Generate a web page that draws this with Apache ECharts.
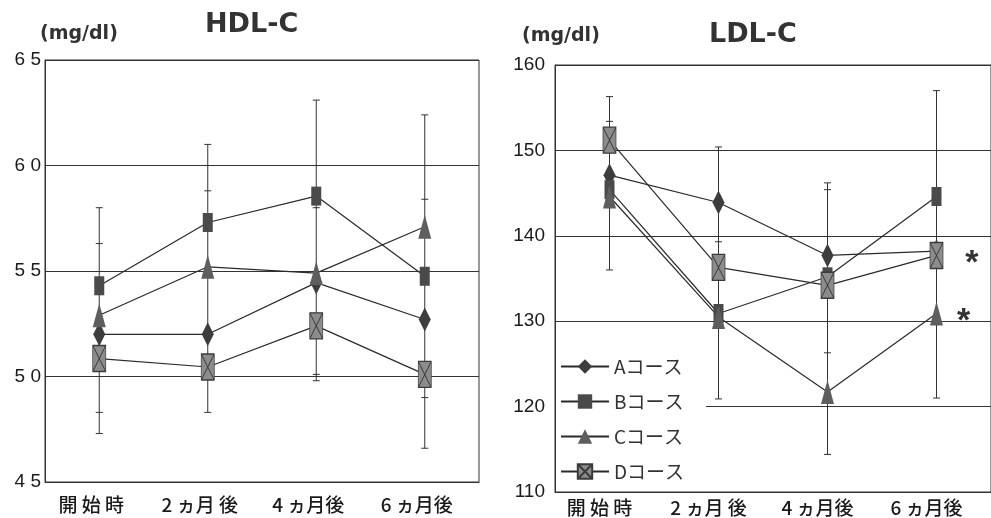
<!DOCTYPE html>
<html>
<head>
<meta charset="utf-8">
<script src="https://cdn.jsdelivr.net/npm/echarts@6/dist/echarts.min.js"></script>
<style>
  html, body { margin: 0; background: #fff; }
  #chart { width: 991px; height: 518px; }
</style>
</head>
<body>
<div id="chart"></div>
<script>
// categories / series names
const categories = ['開 始 時', '2 ヵ月 後', '4 ヵ月後', '6 ヵ月後']
const courseNames = ['Aコース', 'Bコース', 'Cコース', 'Dコース']

// HDL-C means
const hdlA = [52.0, 52.0, 54.45, 52.7]
const hdlB = [54.3, 57.3, 58.55, 54.75]
const hdlC = [52.9, 55.2, 54.9, 57.1]
const hdlD = [50.85, 50.45, 52.4, 50.1]
// HDL-C error bar ends [low, high]
const hdlErrA = [[48.3, 56.3], [null, 58.8], [null, 58.0], [null, 58.4]]
const hdlErrB = [[null, 58.0], [null, 61.0], [null, 63.1], [49.0, null]]
const hdlErrC = [[null, null], [null, null], [49.8, null], [null, 62.4]]
const hdlErrD = [[47.3, null], [48.3, null], [50.1, null], [46.6, null]]

// LDL-C means
const ldlA = [147.1, 143.9, 137.7, 138.2]
const ldlB = [145.4, 130.9, 135.2, 144.6]
const ldlC = [144.6, 130.5, 121.7, 130.9]
const ldlD = [151.2, 136.3, 134.2, 137.7]
// LDL-C error bar ends [low, high]
const ldlErrA = [[null, 153.4], [null, 150.4], [null, 146.2], [null, null]]
const ldlErrB = [[null, null], [120.9, null], [null, 145.4], [null, 157.0]]
const ldlErrC = [[136.0, null], [null, null], [114.4, null], [121.0, null]]
const ldlErrD = [[null, 156.3], [null, 139.3], [126.3, null], [null, null]]
// significance marks (*)
const ldlStarC = [0, 0, 0, 1]
const ldlStarD = [0, 0, 0, 1]

// tick labels
const hdlTicks = [45, 50, 55, 60, 65]
const ldlTicks = [110, 120, 130, 140, 150, 160]

const symbols = ['diamond', 'rect', 'triangle', 'path://M0,0L10,0L10,20L0,20Z M0,0L10,20 M10,0L0,20']
const symbolSizes = [[12, 24], [10, 19], [13, 24], [13, 26]]
const fills = ['#3d3d3d', '#4a4a4a', '#5e5e5e', '#8c8c8c']
const starDistance = [0, 0, 14, 22]

function lineSeries (idx, vals, k, stars) {
  return {
    type: 'line',
    name: courseNames[k],
    xAxisIndex: idx,
    yAxisIndex: idx,
    symbol: symbols[k],
    symbolSize: symbolSizes[k],
    z: 3,
    data: vals.map((v, i) => {
      if (stars && stars[i]) {
        return {
          value: v,
          label: {
            show: true,
            formatter: '*',
            position: 'right',
            distance: starDistance[k],
            offset: [0, 8],
            fontFamily: 'Liberation Sans',
            fontWeight: 'bold',
            fontSize: 34,
            color: '#333'
          }
        }
      }
      return v
    }),
    lineStyle: { color: '#2a2a2a', width: 1.2 },
    itemStyle: {
      color: fills[k],
      borderColor: k === 3 ? '#3a3a3a' : fills[k],
      borderWidth: k === 3 ? 1 : 0
    }
  }
}

function errorSeries (idx, means, errs) {
  const data = categories.map((c, i) => {
    const ys = []
    errs.forEach((e, k) => {
      const lo = e[i][0]
      const hi = e[i][1]
      if (lo != null || hi != null) ys.push(means[k][i])
      if (lo != null) ys.push(lo)
      if (hi != null) ys.push(hi)
    })
    return [i, Math.min.apply(null, ys), Math.max.apply(null, ys)]
  })
  return {
    type: 'custom',
    xAxisIndex: idx,
    yAxisIndex: idx,
    silent: true,
    z: 2,
    encode: { x: 0, y: [1, 2] },
    data: data,
    renderItem: (params, api) => {
      const i = params.dataIndex
      const lowPt = api.coord([i, api.value(1)])
      const highPt = api.coord([i, api.value(2)])
      const style = { stroke: '#333', lineWidth: 1 }
      const children = [{
        type: 'line',
        shape: { x1: lowPt[0], y1: lowPt[1], x2: highPt[0], y2: highPt[1] },
        style: style
      }]
      errs.forEach(e => {
        e[i].forEach(v => {
          if (v == null) return
          const p = api.coord([i, v])
          children.push({
            type: 'line',
            shape: { x1: p[0] - 3.5, y1: p[1], x2: p[0] + 3.5, y2: p[1] },
            style: style
          })
        })
      })
      return { type: 'group', children: children }
    }
  }
}

const titleFont = { fontFamily: 'DejaVu Sans', fontWeight: 'bold', color: '#333' }
const axisLabelFont = { fontFamily: 'Liberation Sans', fontSize: 19, color: '#1a1a1a' }
const catLabelFont = { fontFamily: 'Noto Sans CJK JP', fontSize: 19, fontWeight: 500, color: '#1a1a1a' }

const chart = echarts.init(document.getElementById('chart'))
chart.setOption({
  animation: false,
  backgroundColor: '#fff',
  title: [
    { text: 'HDL-C', left: 205, top: 11, padding: 0, textStyle: Object.assign({ fontSize: 27 }, titleFont) },
    { text: '(mg/dl)', left: 40, top: 25, padding: 0, textStyle: Object.assign({ fontSize: 19 }, titleFont) },
    { text: 'LDL-C', left: 709, top: 21, padding: 0, textStyle: Object.assign({ fontSize: 27 }, titleFont) },
    { text: '(mg/dl)', left: 522, top: 27, padding: 0, textStyle: Object.assign({ fontSize: 19 }, titleFont) }
  ],
  legend: {
    data: courseNames,
    orient: 'vertical',
    left: 556,
    top: 351,
    itemWidth: 48,
    itemHeight: 18,
    itemGap: 16,
    padding: [6, 22, 6, 4],
    backgroundColor: '#fff',
    selectedMode: false,
    textStyle: { fontFamily: 'Noto Sans CJK JP', fontSize: 19, color: '#333' }
  },
  grid: [
    { left: 45, right: 512, top: 60, bottom: 36, show: true, borderColor: '#333', borderWidth: 1 },
    { left: 555, right: -6, top: 65, bottom: 26, show: true, borderColor: '#333', borderWidth: 1 }
  ],
  xAxis: [
    {
      type: 'category',
      gridIndex: 0,
      data: categories,
      axisLine: { lineStyle: { color: '#333' } },
      axisTick: { inside: true, length: 7, lineStyle: { color: '#333' } },
      axisLabel: Object.assign({ margin: 13, padding: [0, 16, 0, 0] }, catLabelFont)
    },
    {
      type: 'category',
      gridIndex: 1,
      data: categories,
      axisLine: { lineStyle: { color: '#333' } },
      axisTick: { inside: true, length: 7, lineStyle: { color: '#333' } },
      axisLabel: Object.assign({ margin: 6, padding: [0, 20, 0, 0] }, catLabelFont)
    }
  ],
  yAxis: [
    {
      type: 'value',
      gridIndex: 0,
      min: hdlTicks[0],
      max: hdlTicks[hdlTicks.length - 1],
      interval: 5,
      axisLine: { show: true, lineStyle: { color: '#333' } },
      axisTick: { show: false },
      splitLine: { lineStyle: { color: '#333', width: 1.2 } },
      axisLabel: Object.assign({
        margin: 4,
        padding: [10, 0, 0, 0],
        formatter: v => String(v).split('').join(' ')
      }, axisLabelFont)
    },
    {
      type: 'value',
      gridIndex: 1,
      min: ldlTicks[0],
      max: ldlTicks[ldlTicks.length - 1],
      interval: 10,
      axisLine: { show: true, lineStyle: { color: '#333' } },
      axisTick: { show: false },
      splitLine: { lineStyle: { color: '#333', width: 1.2 } },
      axisLabel: Object.assign({ margin: 10 }, axisLabelFont)
    }
  ],
  series: [
    errorSeries(0, [hdlA, hdlB, hdlC, hdlD], [hdlErrA, hdlErrB, hdlErrC, hdlErrD]),
    lineSeries(0, hdlA, 0),
    lineSeries(0, hdlB, 1),
    lineSeries(0, hdlC, 2),
    lineSeries(0, hdlD, 3),
    errorSeries(1, [ldlA, ldlB, ldlC, ldlD], [ldlErrA, ldlErrB, ldlErrC, ldlErrD]),
    lineSeries(1, ldlA, 0),
    lineSeries(1, ldlB, 1),
    lineSeries(1, ldlC, 2, ldlStarC),
    lineSeries(1, ldlD, 3, ldlStarD)
  ]
})
</script>
</body>
</html>
